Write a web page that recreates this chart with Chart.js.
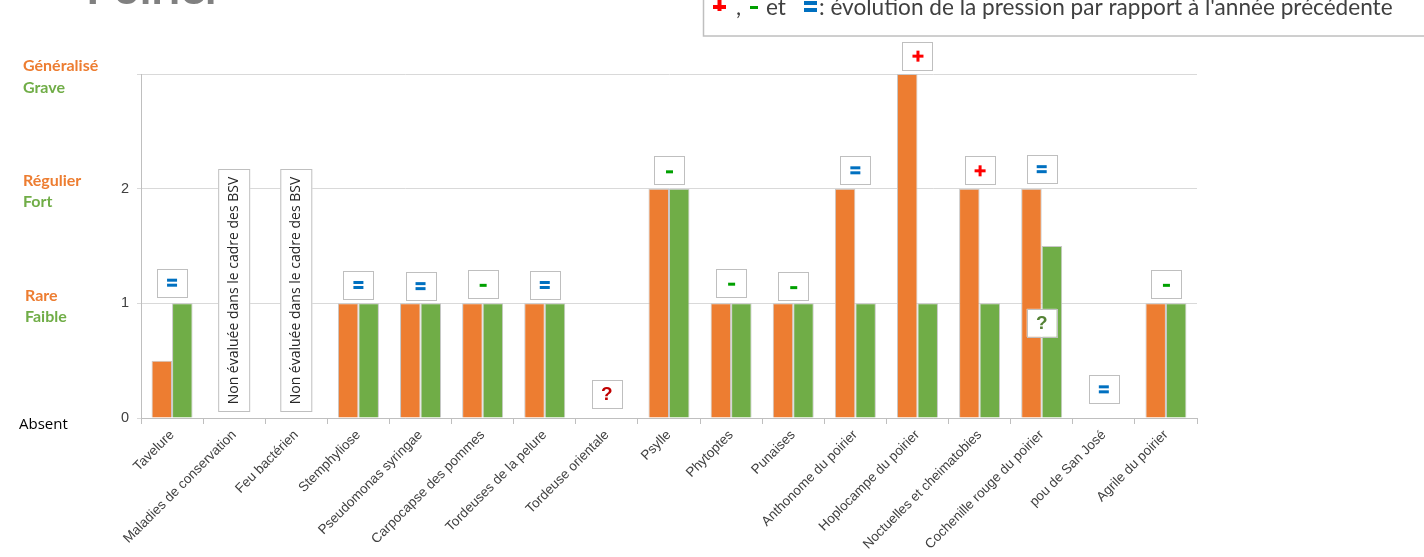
<!DOCTYPE html>
<html>
<head>
<meta charset="utf-8">
<script src="https://cdn.jsdelivr.net/npm/chart.js@4.4.1/dist/chart.umd.min.js"></script>
<style>
  body { margin: 0; background: #fff; }
  #wrap { position: relative; width: 1424px; height: 557px; overflow: hidden; }
</style>
</head>
<body>
<div id="wrap"><canvas id="c" width="1424" height="557"></canvas></div>
<script>
var categories = ["Tavelure", "Maladies de conservation", "Feu bactérien", "Stemphyliose",
  "Pseudomonas syringae", "Carpocapse des pommes", "Tordeuses de la pelure", "Tordeuse orientale",
  "Psylle", "Phytoptes", "Punaises", "Anthonome du poirier", "Hoplocampe du poirier",
  "Noctuelles et cheimatobies", "Cochenille rouge du poirier", "pou de San José", "Agrile du poirier"];
var frequence = [0.5, null, null, 1, 1, 1, 1, null, 2, 1, 1, 2, 3, 2, 2, null, 1];
var intensite = [1, null, null, 1, 1, 1, 1, null, 2, 1, 1, 1, 1, 1, 1.5, null, 1];
var yTicks = [0, 1, 2, 3];

// symboles d'évolution : catégorie, niveau, symbole
var evoCats = [0, 3, 4, 5, 6, 7, 8, 9, 10, 11, 12, 13, 14, 14, 15, 16];
var evoVals = [1.18, 1.16, 1.15, 1.17, 1.16, 0.21, 2.16, 1.18, 1.15, 2.16, 3.16, 2.16, 2.17, 0.83, 0.25, 1.17];
var evoSyms = ["=", "=", "=", "-", "=", "?", "-", "-", "-", "=", "+", "+", "=", "?", "=", "-"];
var nonEvalCats = [1, 2];

var symColors = { "=": "#0070C0", "-": "#00A000", "+": "#FF0000" };

var annotations = {
  id: 'annotations',
  afterDatasetsDraw: function(chart) {
    var ctx = chart.ctx, x = chart.scales.x, y = chart.scales.y;
    ctx.save();
    // boites "Non évaluée"
    nonEvalCats.forEach(function(i) {
      var cx = x.getPixelForValue(i);
      ctx.fillStyle = '#fff';
      ctx.strokeStyle = '#bfbfbf';
      ctx.lineWidth = 1;
      ctx.fillRect(cx - 16, 169, 32, 243);
      ctx.strokeRect(cx - 15.5, 169.5, 31, 242);
      ctx.save();
      ctx.translate(cx, 290.5);
      ctx.rotate(-Math.PI / 2);
      ctx.fillStyle = '#262626';
      ctx.font = '14px "Open Sans"';
      ctx.textAlign = 'center';
      ctx.textBaseline = 'middle';
      ctx.fillText('Non évaluée dans le cadre des BSV', 0, 0);
      ctx.restore();
    });
    evoCats.forEach(function(i, k) {
      var cx = x.getPixelForValue(i), cy = y.getPixelForValue(evoVals[k]);
      var s = evoSyms[k];
      ctx.fillStyle = '#fff';
      ctx.strokeStyle = '#bfbfbf';
      ctx.fillRect(cx - 15, cy - 14, 30, 28);
      ctx.strokeRect(Math.round(cx - 15) + 0.5, Math.round(cy - 14) + 0.5, 30, 28);
      ctx.textAlign = 'center';
      ctx.textBaseline = 'middle';
      if (s === '?') {
        ctx.fillStyle = i === 7 ? '#C00000' : '#548235';
        ctx.font = 'bold 19px "Liberation Sans"';
        ctx.fillText('?', cx, cy + 1);
      } else if (s === '=') {
        ctx.fillStyle = symColors[s];
        ctx.fillRect(cx - 5, cy - 4, 10, 3);
        ctx.fillRect(cx - 5, cy + 1, 10, 3);
      } else if (s === '-') {
        ctx.fillStyle = symColors[s];
        ctx.fillRect(cx - 3, cy, 7, 3);
      } else {
        ctx.fillStyle = symColors[s];
        ctx.fillRect(cx - 5, cy - 1, 11, 3);
        ctx.fillRect(cx - 1, cy - 5, 3, 11);
      }
    });
    ctx.restore();
  },
  afterDraw: function(chart) {
    var ctx = chart.ctx;
    ctx.save();
    // titre coupé
    ctx.fillStyle = '#808080';
    ctx.font = 'bold 46px Lato';
    ctx.textBaseline = 'alphabetic';
    ctx.fillText('Poirier', 86, 4);
    // niveaux
    ctx.font = 'bold 16px Lato';
    ctx.textBaseline = 'middle';
    var lv = [["Généralisé", "Grave", 66, 88, 23], ["Régulier", "Fort", 181, 202, 23], ["Rare", "Faible", 296, 317, 25]];
    lv.forEach(function(l) {
      ctx.fillStyle = '#ED7D31';
      ctx.fillText(l[0], l[4], l[2]);
      ctx.fillStyle = '#70AD47';
      ctx.fillText(l[1], l[4], l[3]);
    });
    ctx.fillStyle = '#000';
    ctx.font = '15px "Open Sans"';
    ctx.fillText('Absent', 19, 425);
    // légende
    ctx.strokeStyle = '#bfbfbf';
    ctx.lineWidth = 1.5;
    ctx.strokeRect(703.5, -10, 760, 46);
    ctx.fillStyle = '#FF0000';
    ctx.fillRect(713, 5, 13, 4);
    ctx.fillRect(717.5, 0, 4, 11);
    ctx.fillStyle = '#00A000';
    ctx.fillRect(750, 6, 8, 3);
    ctx.fillStyle = '#0070C0';
    ctx.fillRect(804, 1, 13, 4);
    ctx.fillRect(804, 8, 13, 4);
    ctx.fillStyle = '#404040';
    ctx.font = '22.6px Lato';
    ctx.fillText(',', 736, 8);
    ctx.fillText('et', 766, 8);
    ctx.fillText(": évolution de la pression par rapport à l'année précédente", 819, 8);
    ctx.restore();
  }
};

new Chart(document.getElementById('c'), {
  type: 'bar',
  data: {
    labels: categories,
    datasets: [{
      label: 'Fréquence',
      data: frequence,
      backgroundColor: '#ED7D31',
      borderColor: '#c8c8c8',
      borderWidth: 1
    }, {
      label: 'Intensité',
      data: intensite,
      backgroundColor: '#70AD47',
      borderColor: '#c8c8c8',
      borderWidth: 1
    }]
  },
  options: {
    responsive: false,
    animation: false,
    layout: { padding: { left: 0, right: 227, top: 74, bottom: 0 } },
    plugins: { legend: { display: false }, tooltip: { enabled: false } },
    datasets: { bar: { categoryPercentage: 0.66, barPercentage: 1 } },
    scales: {
      x: {
        afterFit: function(s) { s.height = 139; },
        grid: { drawOnChartArea: false, color: '#bfbfbf', tickLength: 6 },
        border: { color: '#bfbfbf' },
        ticks: {
          maxRotation: 45, minRotation: 45, autoSkip: false,
          color: '#404040', font: { family: 'Liberation Sans', size: 13.5 }
        }
      },
      y: {
        min: 0, max: 3,
        afterFit: function(s) { s.width = 141; },
        afterBuildTicks: function(s) { s.ticks = yTicks.map(function(v) { return { value: v }; }); },
        grid: { color: '#d9d9d9', tickLength: 4 },
        border: { color: '#bfbfbf' },
        ticks: {
          color: '#404040', font: { family: 'Liberation Sans', size: 14.5 }, padding: 8,
          callback: function(v) { return v === 3 ? '' : v; }
        }
      }
    }
  },
  plugins: [annotations]
});
</script>
</body>
</html>
